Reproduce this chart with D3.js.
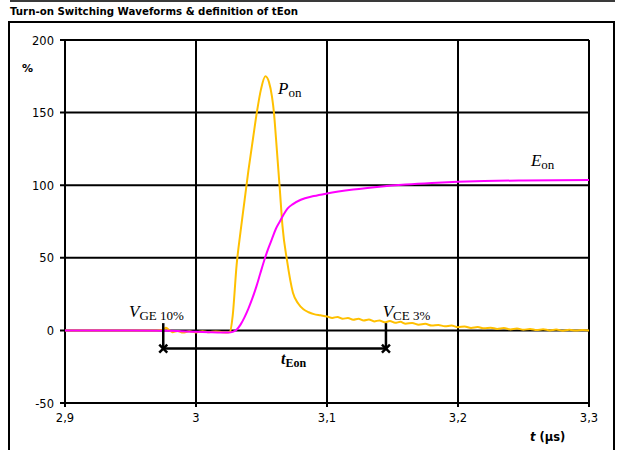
<!DOCTYPE html>
<html>
<head>
<meta charset="utf-8">
<script src="https://cdn.jsdelivr.net/npm/d3@7"></script>
<style>
  html, body { margin: 0; padding: 0; background: #fff; }
  svg { display: block; }
  .tick-label { font-family: "DejaVu Sans", Verdana, sans-serif; font-size: 11.5px; fill: #000; }
  .math { font-family: "Liberation Serif", "Times New Roman", serif; fill: #000; }
</style>
</head>
<body>
<svg id="chart" width="624" height="450"></svg>
<script>
// Axis ticks
const xTicks = [2.9, 3.0, 3.1, 3.2, 3.3];
const xTickLabels = ["2,9", "3", "3,1", "3,2", "3,3"];
const yTicks = [-50, 0, 50, 100, 150, 200];

// Turn-on power P_on (%), time in µs
const ponTime = [2.9, 2.92, 2.94, 2.96, 2.97, 2.975, 2.977, 2.979, 2.982, 2.986, 2.99, 2.995,
  3.0, 3.005, 3.01, 3.015, 3.02, 3.024, 3.026, 3.028, 3.031, 3.034, 3.037, 3.040, 3.0435,
  3.0466, 3.0496, 3.053, 3.0557, 3.058, 3.0595, 3.061, 3.064, 3.066, 3.0695, 3.074, 3.078,
  3.082, 3.086, 3.09, 3.095, 3.1, 3.104, 3.108, 3.112, 3.116, 3.12, 3.124, 3.128, 3.132,
  3.136, 3.14, 3.144, 3.148, 3.152, 3.156, 3.16, 3.165, 3.17, 3.175, 3.18, 3.185, 3.19,
  3.195, 3.2, 3.205, 3.21, 3.215, 3.22, 3.225, 3.23, 3.235, 3.24, 3.245, 3.25, 3.255,
  3.26, 3.265, 3.27, 3.275, 3.28, 3.285, 3.29, 3.295, 3.3];
const ponValue = [0, 0, 0, 0, 0, 0.4, 1.8, 0.6, -1.2, -0.4, -1.5, -0.6,
  -1.4, -0.5, -1.3, -0.7, -1.2, -1.4, -0.8, 10, 45, 68, 89, 110, 132,
  151, 166, 175, 171, 161, 150, 133, 97, 72, 48, 26, 18.5,
  14.5, 12.5, 11.2, 10.4, 9.6, 8.6, 9.3, 8.0, 8.6, 7.3, 8.0, 6.8, 7.5,
  6.2, 6.9, 5.6, 6.4, 5.2, 5.9, 4.6, 5.1, 3.9, 4.5, 3.3, 3.8, 2.8,
  3.3, 2.2, 2.7, 1.7, 2.3, 1.4, 1.9, 1.0, 1.6, 0.7, 1.3, 0.4, 1.0,
  0.2, 0.8, 0.0, 0.6, -0.2, 0.4, -0.1, 0.3, 0.0];

// Turn-on energy E_on (%)
const eonTime = [2.9, 2.95, 2.98, 3.0, 3.01, 3.02, 3.025, 3.028, 3.031, 3.034, 3.037, 3.040,
  3.043, 3.046, 3.049, 3.052, 3.055, 3.058, 3.061, 3.064, 3.067, 3.070, 3.074, 3.08,
  3.09, 3.1, 3.12, 3.14, 3.16, 3.18, 3.2, 3.22, 3.25, 3.3];
const eonValue = [0, 0, -0.3, -1, -1.3, -1.5, -1.5, -1, 0.5, 4, 9, 15,
  22, 30, 39, 48, 56, 63, 70, 75, 80, 84, 87, 90,
  92.5, 94.3, 97, 99, 100.5, 101.6, 102.4, 102.9, 103.3, 103.6];

// tEon definition: from V_GE 10% to V_CE 3%
const tEonStart = 2.975;
const tEonEnd = 3.145;

const svg = d3.select("#chart");
const x = d3.scaleLinear().domain([2.9, 3.3]).range([65, 589]);
const y = d3.scaleLinear().domain([-50, 200]).range([403, 40]);

// top rule and outer frame
svg.append("rect").attr("x", 10).attr("y", 0).attr("width", 605).attr("height", 2).attr("fill", "#3a3a3a");
svg.append("rect").attr("x", 9).attr("y", 22).attr("width", 605).attr("height", 440)
  .attr("fill", "none").attr("stroke", "#000").attr("stroke-width", 2);

// title
svg.append("text").attr("x", 10).attr("y", 15)
  .attr("font-family", "'DejaVu Sans', Verdana, sans-serif").attr("font-weight", "bold")
  .attr("font-size", 10).attr("textLength", 288).attr("lengthAdjust", "spacingAndGlyphs")
  .text("Turn-on Switching Waveforms & definition of tEon");

// gridlines
const grid = svg.append("g").attr("stroke", "#000").attr("stroke-width", 2);
grid.selectAll("line.h").data(yTicks).join("line").attr("class", "h")
  .attr("x1", x(2.9) - 5).attr("x2", x(3.3)).attr("y1", d => y(d)).attr("y2", d => y(d));
grid.selectAll("line.v").data(xTicks).join("line").attr("class", "v")
  .attr("x1", d => x(d)).attr("x2", d => x(d)).attr("y1", y(200)).attr("y2", y(-50) + 4);

// tick labels
svg.append("g").selectAll("text").data(yTicks).join("text").attr("class", "tick-label")
  .attr("x", 54).attr("y", d => y(d) + 4.5).attr("text-anchor", "end").text(d => d);
svg.append("g").selectAll("text").data(xTicks).join("text").attr("class", "tick-label")
  .attr("x", d => x(d)).attr("y", 422).attr("text-anchor", "middle")
  .text((d, i) => xTickLabels[i]);

// axis titles
svg.append("text").attr("x", 22).attr("y", 72)
  .attr("font-family", "'DejaVu Sans', Verdana, sans-serif").attr("font-weight", "bold")
  .attr("font-size", 11).text("%");
const xt = svg.append("text").attr("x", 530).attr("y", 441)
  .attr("font-family", "'DejaVu Sans', Verdana, sans-serif").attr("font-weight", "bold")
  .attr("font-size", 11.5);
xt.append("tspan").attr("font-style", "italic").text("t");
xt.append("tspan").text(" (µs)");

// curves
const line = d3.line().x(d => x(d[0])).y(d => y(d[1])).curve(d3.curveMonotoneX);
svg.append("path").datum(ponTime.map((t, i) => [t, ponValue[i]]))
  .attr("d", line).attr("fill", "none").attr("stroke", "#FFC000").attr("stroke-width", 2);
svg.append("path").datum(eonTime.map((t, i) => [t, eonValue[i]]))
  .attr("d", line).attr("fill", "none").attr("stroke", "#FF00FF").attr("stroke-width", 2);

// tEon markers
const mk = svg.append("g").attr("stroke", "#000").attr("stroke-width", 2.5);
[tEonStart, tEonEnd].forEach(t => {
  mk.append("line").attr("x1", x(t)).attr("x2", x(t)).attr("y1", y(5)).attr("y2", y(-12.5));
  const cx = x(t), cy = y(-12.5), s = 4;
  mk.append("line").attr("x1", cx - s).attr("x2", cx + s).attr("y1", cy - s).attr("y2", cy + s);
  mk.append("line").attr("x1", cx - s).attr("x2", cx + s).attr("y1", cy + s).attr("y2", cy - s);
});
mk.append("line").attr("x1", x(tEonStart)).attr("x2", x(tEonEnd)).attr("y1", y(-12.5)).attr("y2", y(-12.5));

// math-style labels
function mathLabel(px, py, main, sub, opts = {}) {
  const t = svg.append("text").attr("class", "math").attr("x", px).attr("y", py)
    .attr("font-weight", opts.bold ? "bold" : "normal");
  t.append("tspan").attr("font-style", "italic").attr("font-size", opts.size || 17).text(main);
  t.append("tspan").attr("font-size", opts.subSize || 13).attr("dy", opts.dy || 3).text(sub);
  return t;
}
mathLabel(x(2.9489), y(9.2), "V", "GE 10%");
mathLabel(x(3.1425), y(9.2), "V", "CE 3%");
mathLabel(x(3.0626), y(162.8), "P", "on");
mathLabel(x(3.2557), y(113.2), "E", "on");
mathLabel(x(3.0649), y(-23.1), "t", "Eon", { bold: true, size: 16, subSize: 12, dy: 3 });
</script>
</body>
</html>
